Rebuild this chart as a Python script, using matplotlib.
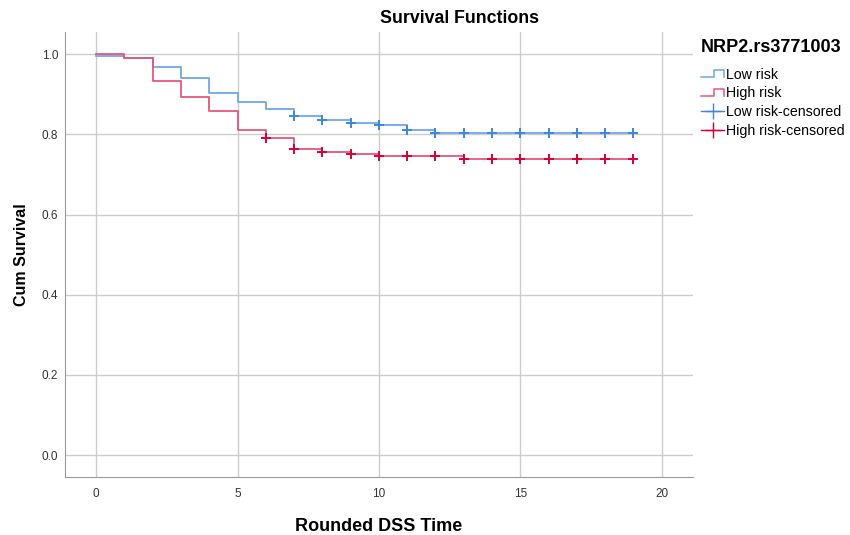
import matplotlib
matplotlib.use('Agg')
import matplotlib.pyplot as plt
from matplotlib.legend_handler import HandlerBase
from matplotlib.lines import Line2D

# Kaplan-Meier style step values, one value per rounded year 0..19
times = list(range(20))
low_surv = [0.995, 0.991, 0.968, 0.940, 0.902, 0.880, 0.863, 0.846, 0.835, 0.829,
            0.824, 0.810, 0.804, 0.804, 0.804, 0.804, 0.804, 0.804, 0.804, 0.804]
high_surv = [1.000, 0.991, 0.932, 0.894, 0.859, 0.812, 0.792, 0.764, 0.755, 0.750,
             0.745, 0.745, 0.745, 0.739, 0.739, 0.739, 0.739, 0.739, 0.739, 0.739]

low_cens_t = [7, 8, 9, 10, 11, 12, 13, 14, 15, 16, 17, 18, 19]
high_cens_t = [6, 7, 8, 9, 10, 11, 12, 13, 14, 15, 16, 17, 18, 19]

x_ticks = [0, 5, 10, 15, 20]
y_ticks = [0.0, 0.2, 0.4, 0.6, 0.8, 1.0]

LOW_LINE = '#6ea8ea'
LOW_MARK = '#3d88dc'
HIGH_LINE = '#e5577a'
HIGH_MARK = '#d80036'


class StepHandler(HandlerBase):
    # little step icon, like the SPSS legend
    def create_artists(self, legend, orig_handle, xd, yd, width, height, fontsize, trans):
        y0 = yd + height * 0.15
        y1 = yd + height * 0.85
        xs = [xd, xd + width * 0.55, xd + width * 0.55, xd + width, xd + width]
        ys = [y0, y0, y1, y1, y0]
        ln = Line2D(xs, ys, color=orig_handle.get_color(), lw=1.1, transform=trans)
        return [ln]


def main():
    plt.rcParams['font.family'] = ['Liberation Sans', 'DejaVu Sans']

    fig = plt.figure(figsize=(8.5, 5.35), dpi=100)
    ax = fig.add_axes([0.0765, 0.108, 0.7385, 0.832])

    ln_low, = ax.plot(times, low_surv, drawstyle='steps-post', color=LOW_LINE, lw=1.3)
    ln_high, = ax.plot(times, high_surv, drawstyle='steps-post', color=HIGH_LINE, lw=1.3)

    cens_low, = ax.plot(low_cens_t, [low_surv[t] for t in low_cens_t], linestyle='none',
                        marker='+', markersize=6.5, mew=1.4, color=LOW_MARK)
    cens_high, = ax.plot(high_cens_t, [high_surv[t] for t in high_cens_t], linestyle='none',
                         marker='+', markersize=6.5, mew=1.4, color=HIGH_MARK)

    ax.set_xlim(-1.1, 21.1)
    ax.set_ylim(-0.055, 1.055)
    ax.set_xticks(x_ticks)
    ax.set_yticks(y_ticks)
    ax.set_yticklabels(['%.1f' % v for v in y_ticks])
    ax.tick_params(axis='y', length=0, labelsize=8.5, colors='#333333', pad=5)
    ax.tick_params(axis='x', length=0, labelsize=8.5, colors='#333333', pad=8)

    ax.grid(True, color='#cccccc', lw=1.0)
    ax.set_axisbelow(True)
    for side in ['top', 'right']:
        ax.spines[side].set_visible(False)
    for side in ['left', 'bottom']:
        ax.spines[side].set_color('#999999')

    # SPSS centres the title over plot + legend
    fig.text(0.54, 0.966, 'Survival Functions', fontsize=12.8, fontweight='bold',
             ha='center', va='center')
    ax.set_xlabel('Rounded DSS Time', fontsize=13, fontweight='bold', labelpad=13)
    ax.set_ylabel('Cum Survival', fontsize=11.5, fontweight='bold', labelpad=9)

    leg_line_low = Line2D([], [], color=LOW_LINE)
    leg_line_high = Line2D([], [], color=HIGH_LINE)
    leg_cens_low = Line2D([], [], color=LOW_MARK, marker='+', markersize=11, lw=1.0)
    leg_cens_high = Line2D([], [], color=HIGH_MARK, marker='+', markersize=11, lw=1.0)

    leg = fig.legend([leg_line_low, leg_line_high, leg_cens_low, leg_cens_high],
                     ['Low risk', 'High risk', 'Low risk-censored', 'High risk-censored'],
                     handler_map={leg_line_low: StepHandler(), leg_line_high: StepHandler()},
                     loc='upper left', bbox_to_anchor=(0.810, 0.950), frameon=False,
                     fontsize=10.2, title='NRP2.rs3771003', handlelength=1.6,
                     handletextpad=0.15, labelspacing=0.33, alignment='left')
    leg.get_title().set_fontsize(13)
    leg.get_title().set_fontweight('bold')
    leg._legend_box.sep = 8

    fig.savefig('out.png', dpi=100)


if __name__ == '__main__':
    main()
